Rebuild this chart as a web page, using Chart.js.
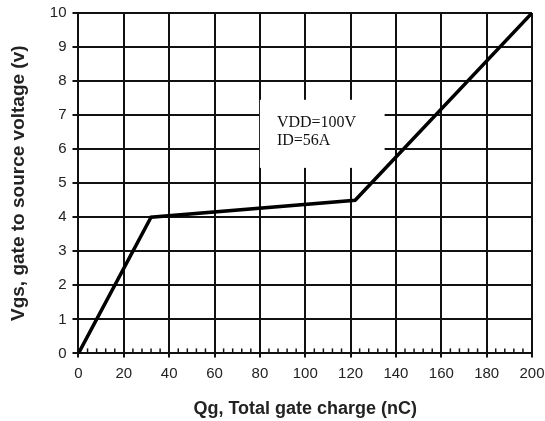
<!DOCTYPE html>
<html>
<head>
<meta charset="utf-8">
<script src="https://cdn.jsdelivr.net/npm/chart.js@4/dist/chart.umd.min.js"></script>
<style>
  html, body { margin: 0; padding: 0; background: #fff; }
  #wrap { width: 545px; height: 421px; }
</style>
</head>
<body>
<div id="wrap"><canvas id="myChart" width="545" height="421"></canvas></div>
<script>
// gate charge curve
var qg = [0, 32, 122, 200]
var vgs = [0, 4, 4.5, 10]
var xTicks = [0, 20, 40, 60, 80, 100, 120, 140, 160, 180, 200]
var yTicks = [0, 1, 2, 3, 4, 5, 6, 7, 8, 9, 10]
var noteLines = ['VDD=100V', 'ID=56A']

// small tick marks on the x axis every 4 nC + the note box
var extras = {
    id: 'extras',
    afterDraw(chart) {
        const ctx = chart.ctx
        const x = chart.scales.x
        const y = chart.scales.y
        ctx.save()
        ctx.strokeStyle = '#111'
        ctx.lineWidth = 1.5
        for (let v = 0; v <= 200; v += 4) {
            if (v % 20 === 0) continue
            const px = x.getPixelForValue(v)
            ctx.beginPath()
            ctx.moveTo(px, y.bottom)
            ctx.lineTo(px, y.bottom - 5)
            ctx.stroke()
        }
        ctx.restore()
    },
    beforeDatasetsDraw(chart) {
        const ctx = chart.ctx
        const x = chart.scales.x
        const y = chart.scales.y
        const l = x.getPixelForValue(80), r = x.getPixelForValue(135)
        const t = y.getPixelForValue(7.45), b = y.getPixelForValue(5.45)
        ctx.save()
        ctx.fillStyle = '#fff'
        ctx.fillRect(l, t, r - l, b - t)
        ctx.fillStyle = '#111'
        ctx.font = '16px "Liberation Serif", "Times New Roman", serif'
        ctx.textBaseline = 'alphabetic'
        ctx.fillText(noteLines[0], l + 17, t + 27)
        ctx.fillText(noteLines[1], l + 17, t + 45)
        ctx.restore()
    }
}

const ctx = document.getElementById('myChart').getContext('2d')
const myChart = new Chart(ctx, {
    type: 'line',
    data: {
        datasets: [{
            data: qg.map((q, i) => ({ x: q, y: vgs[i] })),
            borderColor: '#000',
            borderWidth: 3.5,
            pointRadius: 0,
            tension: 0,
            fill: false
        }]
    },
    options: {
        responsive: false,
        animation: false,
        layout: { padding: { top: 13, right: 13, left: 3, bottom: -3 } },
        plugins: { legend: { display: false }, tooltip: { enabled: false } },
        scales: {
            x: {
                type: 'linear',
                min: 0, max: 200,
                afterBuildTicks: s => { s.ticks = xTicks.map(v => ({ value: v })) },
                afterFit: s => { s.paddingRight = 0 },
                grid: { color: '#111', lineWidth: 2, drawTicks: true, tickLength: 4 },
                border: { color: '#111', width: 2 },
                ticks: { color: '#222', font: { family: 'Liberation Sans, Arial', size: 15 }, padding: 7, maxRotation: 0 },
                title: { display: true, text: 'Qg, Total gate charge (nC)', color: '#222',
                    font: { family: 'Liberation Sans, Arial', size: 18, weight: 'bold' }, padding: { top: 9 } }
            },
            y: {
                min: 0, max: 10,
                afterBuildTicks: s => { s.ticks = yTicks.map(v => ({ value: v })) },
                afterFit: s => { s.paddingTop = 0; s.paddingBottom = 0 },
                grid: { color: '#111', lineWidth: 2, drawTicks: true, tickLength: 6 },
                border: { color: '#111', width: 2 },
                ticks: { color: '#222', font: { family: 'Liberation Sans, Arial', size: 15 }, padding: 6 },
                title: { display: true, text: 'Vgs, gate to source voltage (v)', color: '#222',
                    font: { family: 'Liberation Sans, Arial', size: 19, weight: 'bold' }, padding: { bottom: 14 } }
            }
        }
    },
    plugins: [extras]
})
</script>
</body>
</html>
